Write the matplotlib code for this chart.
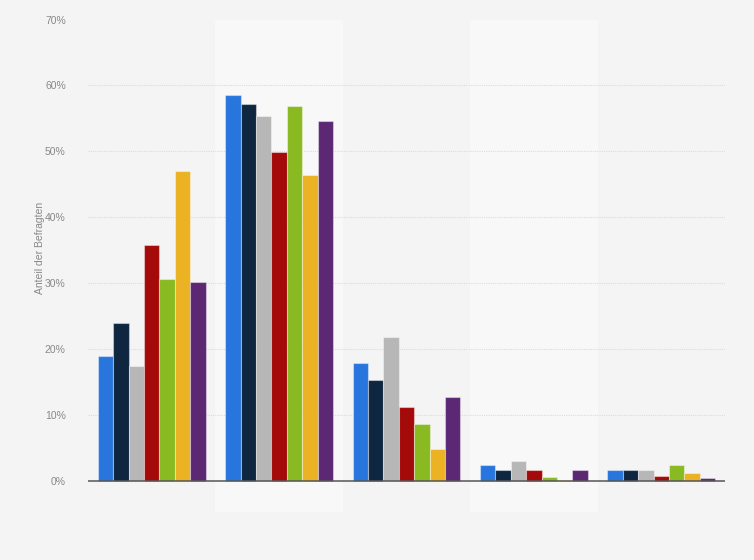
import matplotlib
matplotlib.use("Agg")
import matplotlib.pyplot as plt
import numpy as np

plt.rcParams["font.family"] = ["Liberation Sans", "DejaVu Sans"]

groups = ["1", "2", "3", "4", "5"]
series_colors = ["#2876dd", "#0f2640", "#b7b7b7", "#a50a0a", "#8aba22", "#ebb323", "#5c2874"]
values = [
    [19.0, 58.6, 17.9, 2.4, 1.6],   # blue
    [24.0, 57.2, 15.3, 1.6, 1.7],   # navy
    [17.5, 55.4, 21.9, 3.1, 1.6],   # gray
    [35.8, 49.9, 11.2, 1.7, 0.7],   # red
    [30.7, 56.9, 8.7, 0.6, 2.5],    # green
    [47.0, 46.4, 4.8, 0.1, 1.2],    # yellow
    [30.2, 54.6, 12.7, 1.6, 0.4],   # purple
]
yticks = [0, 10, 20, 30, 40, 50, 60, 70]
ytick_labels = ["0%", "10%", "20%", "30%", "40%", "50%", "60%", "70%"]
ylabel = "Anteil der Befragten"

fig = plt.figure(figsize=(7.54, 5.6), dpi=100)
fig.patch.set_facecolor("#f4f4f4")
ax = fig.add_axes([88/754, 1-512/560, (725-88)/754, (512-19.5)/560])
ax.set_facecolor("#f4f4f4")

n = len(groups)
k = len(values)
x = np.arange(n)
bw = 0.121
for i in range(n):
    if i % 2 == 1:
        ax.axvspan(i - 0.5, i + 0.5, color="#f8f8f8", zorder=0, lw=0)

for j, (vals, c) in enumerate(zip(values, series_colors)):
    offs = (j - (k - 1) / 2) * bw
    ax.bar(x + offs, vals, width=bw, color=c, edgecolor=(1, 1, 1, 0.4),
           linewidth=0.8, zorder=3)

ax.set_xlim(-0.5, n - 0.5)
ax.set_ylim(-4.7, 70)
for t in yticks[1:]:
    ax.axhline(t, color="#dcdcdc", linestyle=(0, (1, 1)), linewidth=0.8, zorder=1)
ax.axhline(0, color="#555555", linewidth=1.1, zorder=4)

ax.set_yticks(yticks)
ax.set_yticklabels(ytick_labels, fontsize=7.5, color="#888888")
ax.tick_params(axis="y", length=0, pad=16)
ax.set_xticks([])
for s in ax.spines.values():
    s.set_visible(False)

fig.text(40/754, 1-248/560, ylabel, rotation=90, fontsize=7.5, color="#888888",
         ha="center", va="center")

fig.savefig("out.png", dpi=100, facecolor=fig.get_facecolor())
